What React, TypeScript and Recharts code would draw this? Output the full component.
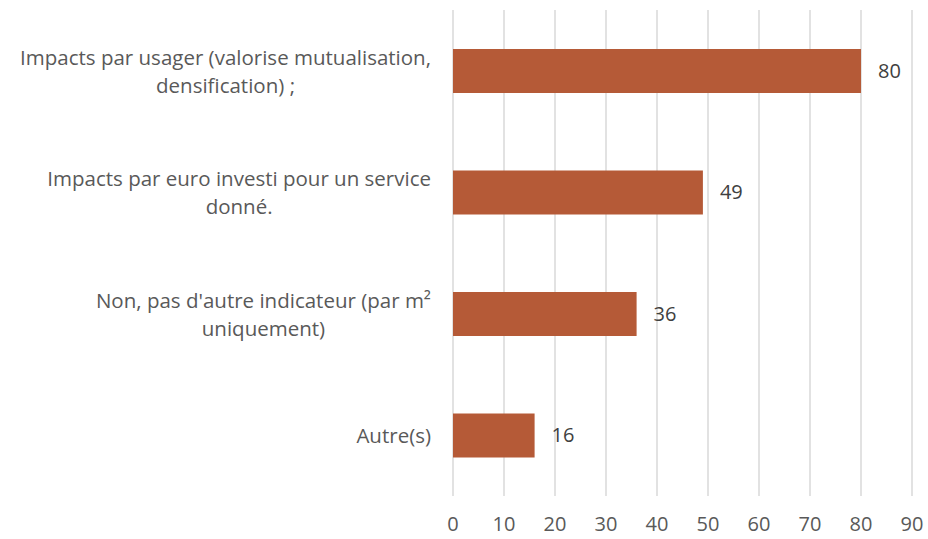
import React from "react";
import { BarChart, Bar, XAxis, YAxis, CartesianGrid, LabelList } from "recharts";

const categories: string[][] = [
  ["Impacts par usager (valorise mutualisation,", "densification) ;"],
  ["Impacts par euro investi pour un service", "donné."],
  ["Non, pas d'autre indicateur (par m²", "uniquement)"],
  ["Autre(s)"],
];
const values: number[] = [80, 49, 36, 16];
const xTicks: number[] = [0, 10, 20, 30, 40, 50, 60, 70, 80, 90];

const data = categories.map((lines, i) => ({ name: lines.join(" "), idx: i, value: values[i] }));

const FONT = '"Open Sans", sans-serif';
const FS = 20.5;
const NFS = 20;

let ctx: CanvasRenderingContext2D | null = null;
function measure(t: string): number {
  if (!ctx) {
    const c = document.createElement("canvas");
    ctx = c.getContext("2d");
  }
  if (!ctx) return t.length * FS * 0.5;
  ctx.font = `${FS}px ${FONT}`;
  return ctx.measureText(t).width;
}

const CatTick = (props: any) => {
  const { x, y, payload } = props;
  const lines = categories[payload.index] || [String(payload.value)];
  const w = Math.max(...lines.map(measure));
  const cx = x - w / 2;
  const lh = 28;
  const start = y + 1 - ((lines.length - 1) * lh) / 2;
  return (
    <g>
      {lines.map((l, i) => (
        <text key={i} x={cx} y={start + i * lh} dy="0.35em" textAnchor="middle" fill="#595959" fontSize={FS} fontFamily={FONT}>
          {l}
        </text>
      ))}
    </g>
  );
};

export default function App() {
  return (
    <div style={{ width: 928, height: 539 }}>
      <style>{`body{margin:0}`}</style>
      <BarChart
        width={928}
        height={539}
        data={data}
        layout="vertical"
        margin={{ top: 10, right: 16, bottom: 0, left: 0 }}
        barCategoryGap="32%"
      >
        <CartesianGrid horizontal={false} vertical={true} stroke="#d9d9d9" strokeWidth={1.5} />
        <XAxis
          type="number"
          domain={[0, 90]}
          ticks={xTicks}
          axisLine={false}
          tickLine={false}
          height={43}
          tickMargin={15}
          tick={{ fill: "#595959", fontSize: NFS, fontFamily: FONT }}
          interval={0}
        />
        <YAxis
          type="category"
          dataKey="name"
          width={453}
          axisLine={false}
          tickLine={false}
          tickMargin={16}
          tick={<CatTick />}
          interval={0}
        />
        <Bar dataKey="value" fill="#B55A37" isAnimationActive={false}>
          <LabelList dataKey="value" position="right" offset={17} fill="#404040" fontSize={NFS} fontFamily={FONT} />
        </Bar>
      </BarChart>
    </div>
  );
}
